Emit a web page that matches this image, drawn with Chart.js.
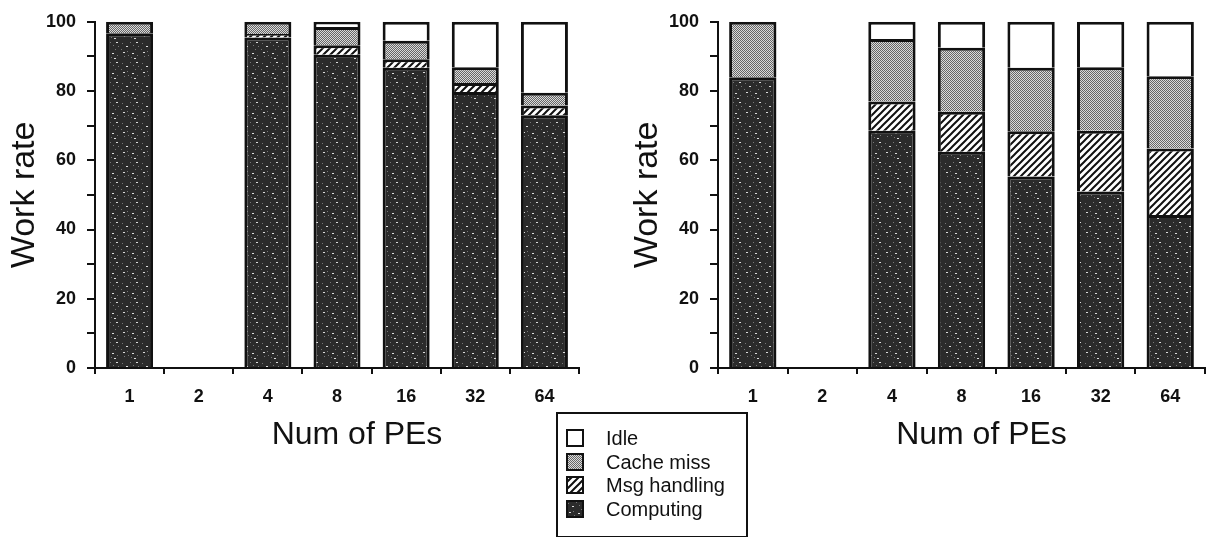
<!DOCTYPE html>
<html>
<head>
<meta charset="utf-8">
<script src="https://cdn.jsdelivr.net/npm/chart.js@4.4.1/dist/chart.umd.min.js"></script>
<style>
  body{margin:0;background:#fff;font-family:'Liberation Sans',Arial,sans-serif}
  #wrap{position:relative;width:1217px;height:537px;background:#fff}
  canvas.ch{position:absolute;top:0}
  #legend{position:absolute;left:556px;top:412px;width:188px;height:122px;border:2px solid #111;background:#fff}
  .lg-row{position:absolute;left:8px;height:24px;display:flex;align-items:center}
  .lg-row canvas{width:18px;height:18px;margin-right:22px}
  .lg-row span{font-size:20px;color:#111;line-height:24px}
</style>
</head>
<body>
<div id="wrap">
  <canvas id="chL" class="ch" width="600" height="457" style="left:0;width:600px;height:457px"></canvas>
  <canvas id="chR" class="ch" width="594" height="457" style="left:623px;width:594px;height:457px"></canvas>
  <div id="legend"></div>
</div>
<script>
// categories + series (stacked bottom -> top)
const pes=['1','2','4','8','16','32','64'];
const series=['Computing','Msg handling','Cache miss','Idle'];
const yLabels=[0,20,40,60,80,100];

// left panel
const leftComputing=[96.7,null,95.5,90.5,86.7,79.7,73];
const leftMsg      =[0,   null,1,   2.7, 2.5, 2.6, 2.8];
const leftCache    =[3.3, null,3.5, 5.3, 5.3, 4.6, 3.7];
const leftIdle     =[0,   null,0,   1.5, 5.5, 13.1,20.5];

// right panel
const rightComputing=[84,null,68.5,62.5,55.3,51,  44.2];
const rightMsg      =[0, null,8.5, 11.5,13.1,17.5,19.2];
const rightCache    =[16,null,18,  18.5,18.3,18.4,20.9];
const rightIdle     =[0, null,5,   7.5, 13.3,13.1,15.7];

const FONT="'Liberation Sans', Arial, sans-serif";
const INK='#111';

function makeTile(w,h,draw){
  const c=document.createElement('canvas');c.width=w;c.height=h;
  draw(c.getContext('2d'));return c;
}
// speckled dark fill for computing
const computingTile=makeTile(20,20,g=>{
  g.fillStyle='#2b2b2b';g.fillRect(0,0,20,20);
  g.fillStyle='#777';
  [[2,3],[7,11],[13,5],[17,15],[4,16],[10,2],[15,9],[1,9],[11,17],[18,6],[8,15]].forEach(([x,y])=>g.fillRect(x,y,1,1));
  g.fillStyle='#ddd';
  [[6,6],[16,2],[12,13],[3,12],[14,18]].forEach(([x,y])=>g.fillRect(x,y,2,1));
});
// stipple for cache miss
const cacheTile=makeTile(4,4,g=>{
  g.fillStyle='#dadada';g.fillRect(0,0,4,4);
  g.fillStyle='#666';
  for(let x=0;x<4;x++)for(let y=0;y<4;y++)if((x+y)%2)g.fillRect(x,y,1,1);
});
// "/" hatch for msg handling
const hatchTile=makeTile(7,7,g=>{
  g.fillStyle='#fff';g.fillRect(0,0,7,7);
  g.strokeStyle=INK;g.lineWidth=2;
  g.beginPath();
  g.moveTo(-1,8);g.lineTo(8,-1);
  g.moveTo(-1,1);g.lineTo(1,-1);
  g.moveTo(6,8);g.lineTo(8,6);
  g.stroke();
});

const pctx=document.createElement('canvas').getContext('2d');
const fills=[
  pctx.createPattern(computingTile,'repeat'),
  pctx.createPattern(hatchTile,'repeat'),
  pctx.createPattern(cacheTile,'repeat'),
  '#ffffff'
];

// x-axis title drawn a bit right of centre, as in the scan
const xTitle={
  id:'xTitle',
  afterDraw(chart,args,o){
    const {ctx,chartArea}=chart;
    ctx.save();
    ctx.font='32px '+FONT;ctx.fillStyle=INK;
    ctx.textAlign='center';ctx.textBaseline='middle';
    ctx.fillText(o.text,(chartArea.left+chartArea.right)/2+o.dx,o.y);
    ctx.restore();
  }
};

function makeChart(id,cols,padRight){
  const ds=series.map((name,i)=>({
    label:name,data:cols[i],backgroundColor:fills[i],
    borderColor:INK,borderWidth:3,borderSkipped:'start',
    barPercentage:0.68,categoryPercentage:1
  }));
  return new Chart(document.getElementById(id),{
    type:'bar',
    data:{labels:pes,datasets:ds},
    plugins:[xTitle],
    options:{
      responsive:false,animation:false,devicePixelRatio:1,
      layout:{padding:{top:16,right:padRight,left:0,bottom:0}},
      plugins:{legend:{display:false},tooltip:{enabled:false},
        xTitle:{text:'Num of PEs',dx:20,y:435}},
      scales:{
        x:{stacked:true,offset:true,
          grid:{display:true,drawOnChartArea:false,offset:true,tickLength:6,color:INK,lineWidth:2},
          border:{display:true,color:INK,width:2},
          ticks:{color:INK,padding:12,font:{family:FONT,size:18,weight:'bold'}},
          afterFit:s=>{s.height=89;}
        },
        y:{stacked:true,min:0,max:100,
          grid:{display:true,drawOnChartArea:false,tickLength:8,color:INK,lineWidth:2},
          border:{display:true,color:INK,width:2},
          ticks:{stepSize:10,color:INK,padding:11,font:{family:FONT,size:18,weight:'bold'},
            callback:v=>yLabels.includes(v)?v:''},
          title:{display:true,text:'Work rate',color:INK,font:{family:FONT,size:34},padding:{top:4,bottom:0}},
          afterFit:s=>{s.width=95;}
        }
      }
    }
  });
}

makeChart('chL',[leftComputing,leftMsg,leftCache,leftIdle],21);
makeChart('chR',[rightComputing,rightMsg,rightCache,rightIdle],12);

// legend, top -> bottom
const lg=document.getElementById('legend');
series.slice().reverse().forEach((name,k)=>{
  const i=series.indexOf(name);
  const row=document.createElement('div');
  row.className='lg-row';row.style.top=(12+k*23.5)+'px';
  const sw=document.createElement('canvas');sw.width=18;sw.height=18;
  const g=sw.getContext('2d');
  g.fillStyle=fills[i];g.fillRect(0,0,18,18);
  g.strokeStyle=INK;g.lineWidth=2;g.strokeRect(1,1,16,16);
  const t=document.createElement('span');t.textContent=name;
  row.appendChild(sw);row.appendChild(t);lg.appendChild(row);
});
</script>
</body>
</html>
